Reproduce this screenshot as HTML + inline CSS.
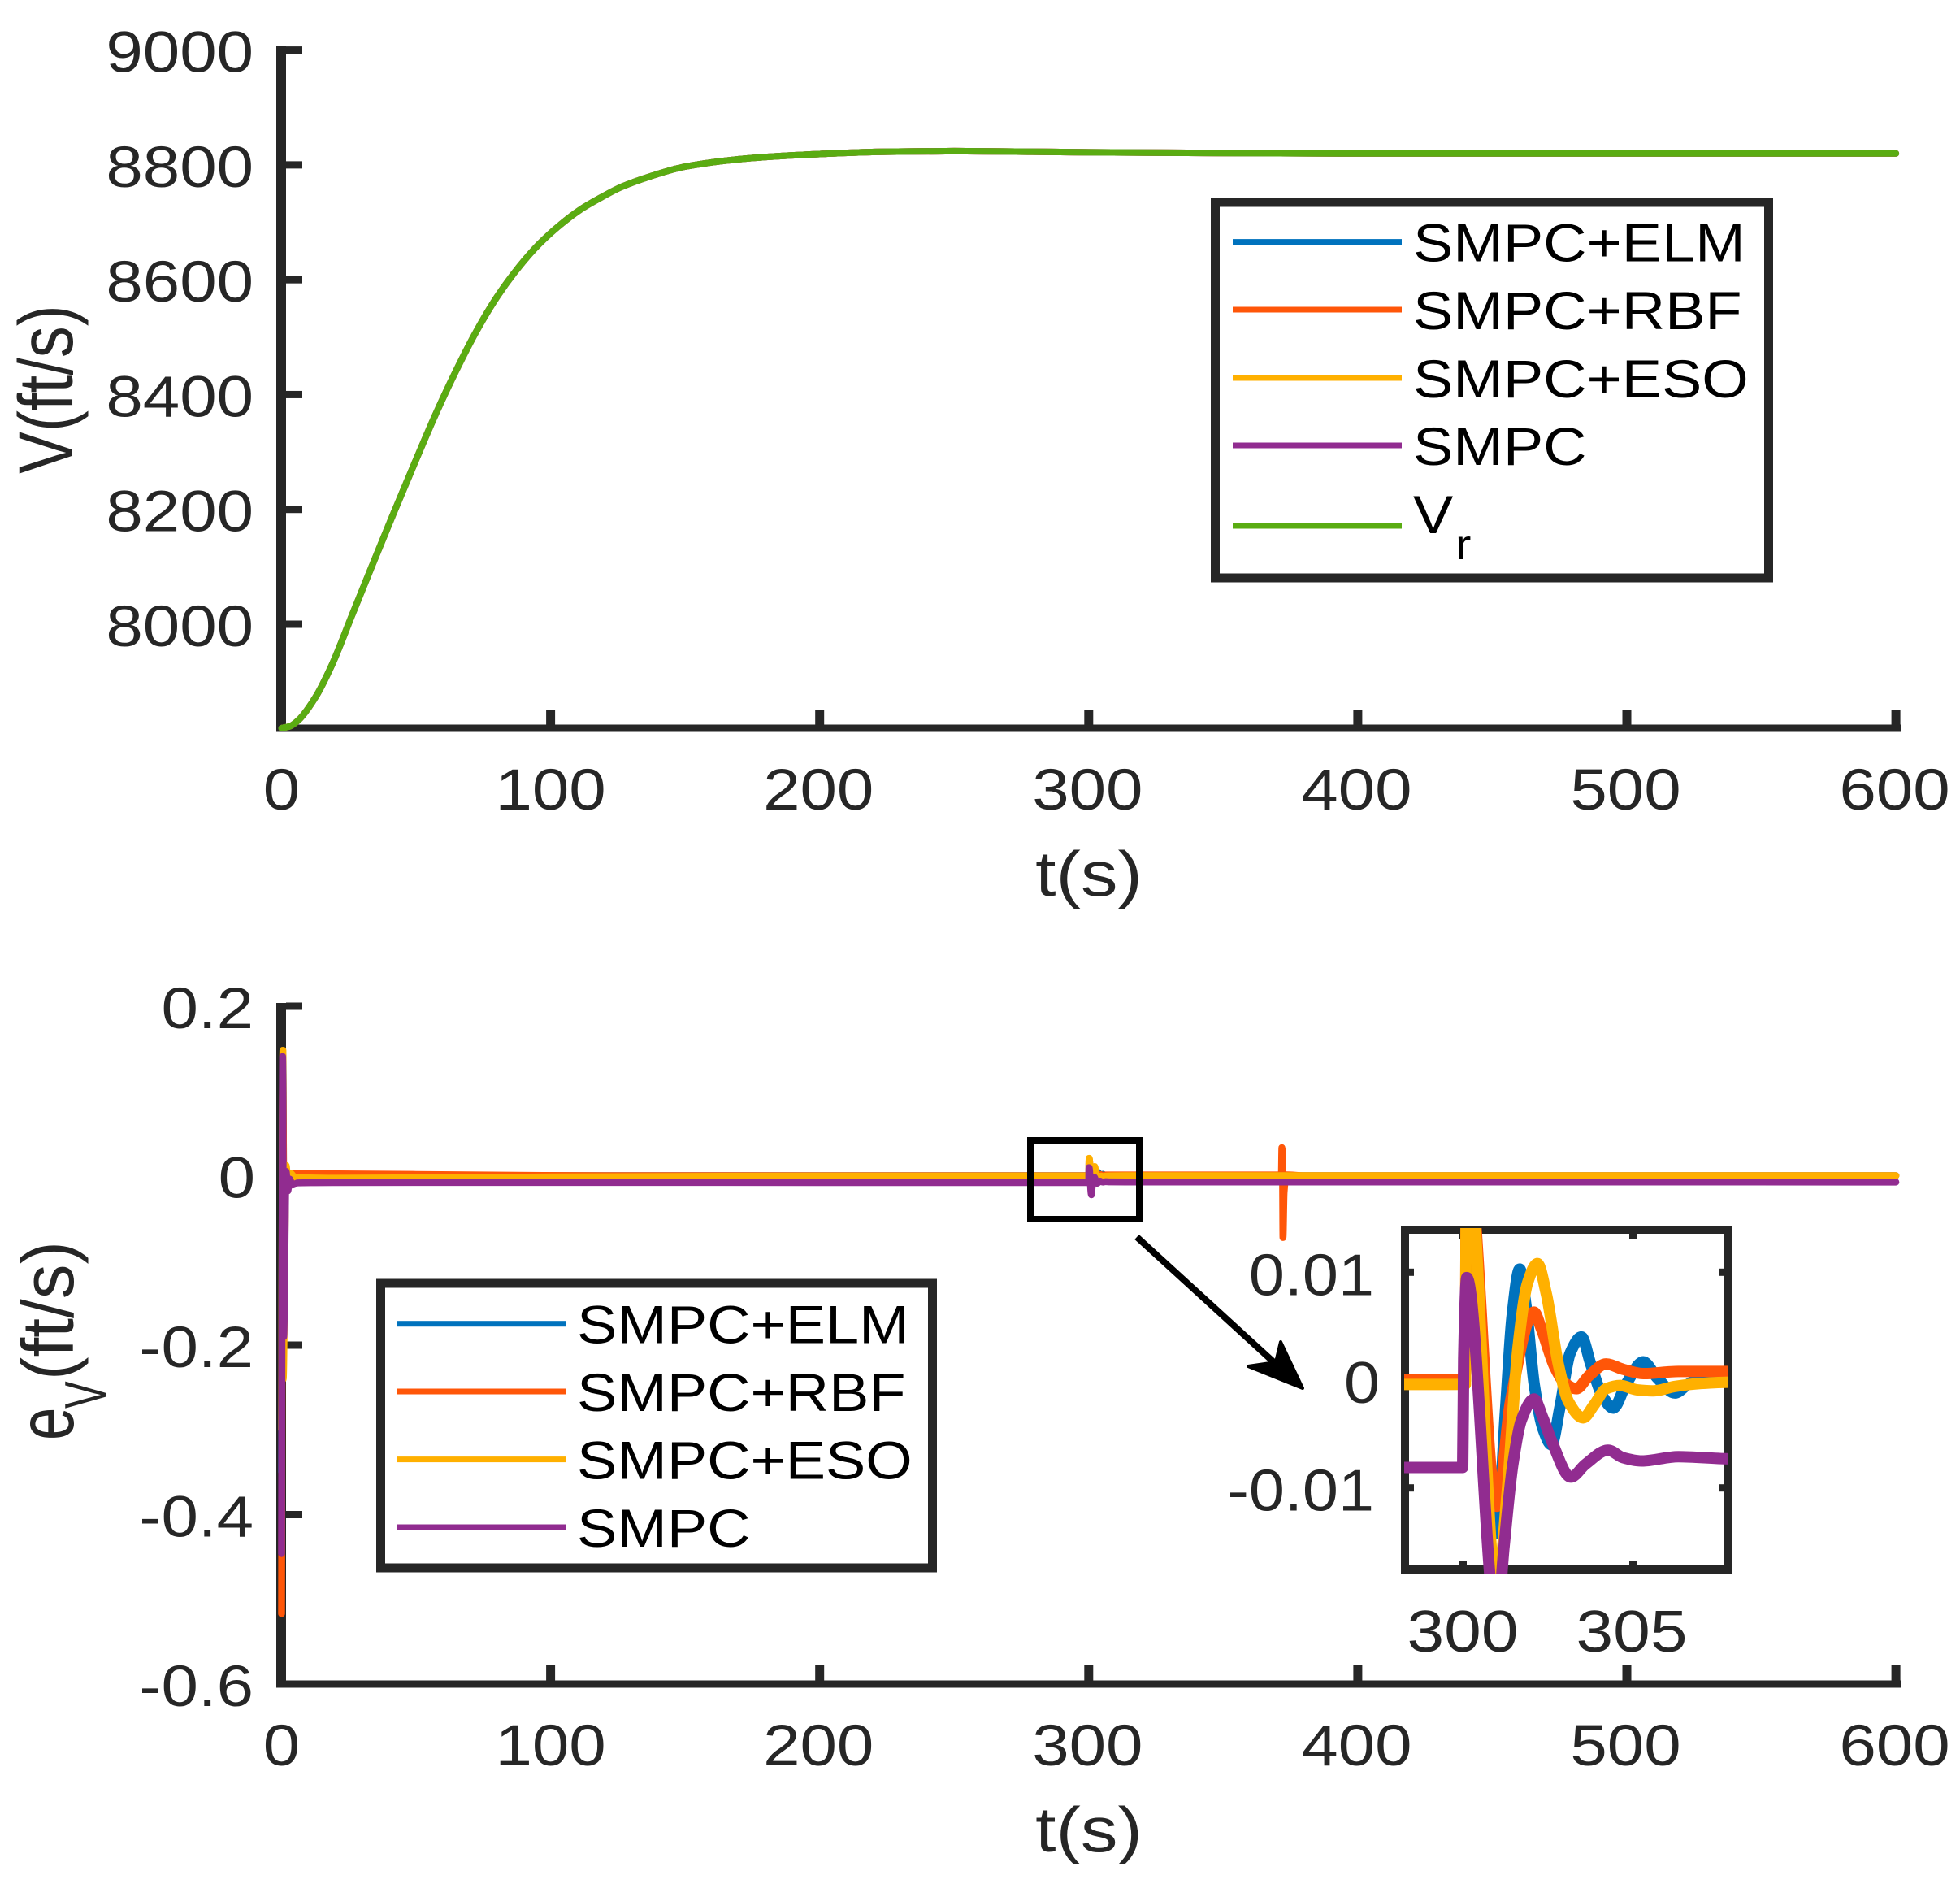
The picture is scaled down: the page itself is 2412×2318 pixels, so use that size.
<!DOCTYPE html>
<html lang="en">
<head>
<meta charset="utf-8">
<title>Velocity tracking and error chart</title>
<style>
html,body{margin:0;padding:0;background:#fff;}
svg{display:block;}
text{font-family:"Liberation Sans",Arial,sans-serif;}
</style>
</head>
<body>
<svg id="figure" xmlns="http://www.w3.org/2000/svg" width="2412" height="2318" viewBox="0 0 2412 2318">
<rect x="0" y="0" width="2412" height="2318" fill="#ffffff"/>
<defs>
<clipPath id="inset-clip"><rect x="1728" y="1511" width="399" height="426"/></clipPath>
</defs>
<g id="top-panel"></g>
<g id="bottom-panel"></g>
<rect x="1268" y="1403" width="134" height="97" fill="none" stroke="#000000" stroke-width="8"/>
<line x1="1399" y1="1522" x2="1572" y2="1680" stroke="#000000" stroke-width="8"/>
<polygon points="1603,1708 1576,1651 1570,1676 1536,1681" fill="#000000" stroke="#000000" stroke-width="4" stroke-linejoin="round"/>
<g id="inset-panel"></g>
</svg>
<script>
// Axis tick values
var xTicks = [0, 100, 200, 300, 400, 500, 600];
var topYTicks = [9000, 8800, 8600, 8400, 8200, 8000];
var bottomYTicks = [0.2, 0, -0.2, -0.4, -0.6];
var bottomYLabels = ['0.2', '0', '-0.2', '-0.4', '-0.6'];
var insetXTicks = [300, 305];
var insetYTicks = [0.01, 0, -0.01];
var insetYLabels = ['0.01', '0', '-0.01'];

// Reference velocity
var vrT = [0, 3, 6.3, 12.5, 18.7, 26.3, 34, 41.7, 49.4, 57, 64.8, 72.5, 80.2, 88, 95.7, 103.4, 111, 119, 126.5, 137, 150, 175, 200, 225, 250, 300, 400, 600];
var vrV = [7819, 7822, 7833, 7872, 7929, 8017, 8106, 8194, 8280, 8363, 8441, 8511, 8571, 8621, 8662, 8695, 8722, 8744, 8762, 8780, 8797, 8812, 8819, 8823, 8824, 8822, 8820, 8820];

// Tracking errors
var elmT = [0, 0.5, 0.9, 1.7, 2.5, 4, 100, 300, 300.08, 300.1, 300.16, 301, 301.25, 301.45, 301.67, 301.85, 302.1, 302.35, 302.6, 302.85, 303.15, 303.48, 303.75, 304.1, 304.41, 304.8, 305.29, 305.7, 306.22, 306.6, 307.05, 307.8, 320, 600];
var elmV = [-0.35, 0.142, -0.1, 0.005, -0.004, 0.001, 0, 0, 0, 0.012, 0.0165, -0.0142, -0.003, 0.006, 0.0103, 0.007, -0.0005, -0.0045, -0.006, -0.0025, 0.0025, 0.004, 0.0015, -0.0015, -0.0026, -0.0003, 0.0017, 0.0002, -0.0012, -0.0004, 0.0003, 0, 0, 0];

var rbfT = [0, 0.45, 1, 1.6, 2.4, 5, 50, 120, 300, 300.08, 300.1, 300.16, 301, 301.4, 302.09, 302.3, 302.7, 303, 303.33, 303.7, 304.2, 304.7, 305.29, 306.32, 307.8, 320, 371.6, 371.8, 372, 372.2, 372.6, 373.5, 380, 600];
var rbfV = [-0.517, 0.14, -0.12, 0.005, -0.004, 0.0025, 0.0015, 0, 0, 0, 0.015, 0.02, -0.0117, -0.002, 0.0063, 0.0048, 0.0012, -0.0003, -0.0008, 0.0004, 0.0015, 0.001, 0.0006, 0.0008, 0.0008, 0.0008, 0.0008, 0.033, 0.02, -0.073, -0.02, 0.001, 0, 0];

var esoT = [0, 0.5, 0.6, 1.7, 2.4, 3.2, 5, 20, 100, 200, 300, 300.08, 300.1, 300.16, 301, 301.3, 301.62, 301.9, 302.19, 302.45, 302.8, 303.1, 303.53, 303.85, 304.2, 304.62, 305.1, 305.6, 306.2, 306.84, 307.8, 320, 600];
var esoV = [-0.3, 0.148, -0.24, 0.012, -0.01, 0.003, -0.002, -0.003, -0.0015, -0.0005, -0.0004, -0.0004, 0.015, 0.0205, -0.0195, -0.0105, 0.003, 0.009, 0.0108, 0.008, 0.0015, -0.002, -0.0035, -0.0023, -0.0008, -0.0005, -0.0009, -0.001, -0.0006, -0.00035, -0.0002, 0, 0];

var smpcT = [0, 0.4, 0.8, 1.7, 2.3, 3, 4, 6, 20, 100, 200, 300, 300.03, 300.12, 301, 301.21, 301.47, 301.72, 302.09, 302.35, 302.6, 303.17, 303.6, 304.26, 304.7, 305.24, 306.32, 307.8, 320, 600];
var smpcV = [-0.446, 0.1405, -0.19, 0.005, -0.018, -0.004, -0.011, -0.0085, -0.0082, -0.008, -0.0081, -0.0081, 0.002, 0.0095, -0.0225, -0.0155, -0.0078, -0.0037, -0.00175, -0.0035, -0.0056, -0.009, -0.0078, -0.0065, -0.0072, -0.0075, -0.0071, -0.0073, -0.0074, -0.0075];

// Legend labels
var legendLabels = ['SMPC+ELM', 'SMPC+RBF', 'SMPC+ESO', 'SMPC'];

var SVG_NS = 'http://www.w3.org/2000/svg';
var INK = '#262626';
var BLUE = '#0072BD', ORANGE = '#FF5608', YELLOW = '#FFB000', PURPLE = '#912C90', GREEN = '#5AAC12';
var seriesColors = [BLUE, ORANGE, YELLOW, PURPLE];
var seriesKeys = ['smpc-elm', 'smpc-rbf', 'smpc-eso', 'smpc'];

function xMain(t) { return 346.5 + t * 3.311; }
function yTop(v) { return 61.6 + (9000 - v) * 0.7064; }
function yBottom(v) { return 1238 + (0.2 - v) * 1042.5; }
function xInset(t) { return 1800 + (t - 300) * 42; }
function yInset(v) { return 1698 - v * 13270; }

function shape(parent, tag, name, props) {
  var el = document.createElementNS(SVG_NS, tag);
  for (var k in props) { el.setAttribute(k, props[k]); }
  
  
  parent.appendChild(el);
  return el;
}

function label(parent, name, str, x, y, size, sx, anchor, fill, rotate) {
  var tr = 'translate(' + x + ' ' + y + ')';
  if (rotate) { tr += ' rotate(' + rotate + ')'; }
  tr += ' scale(' + sx + ' 1)';
  var el = shape(parent, 'text', name, {
    transform: tr, 'font-size': size, 'text-anchor': anchor, fill: fill
  });
  el.textContent = str;
  return el;
}

// Monotone cubic through the data points, so peaks stay at the read values.
function curve(xs, ys) {
  var n = xs.length, d = [], w = [], m = [], i;
  for (i = 0; i < n - 1; i++) {
    w.push(Math.max(xs[i + 1] - xs[i], 1e-6));
    d.push((ys[i + 1] - ys[i]) / w[i]);
  }
  m.push(d[0]);
  for (i = 1; i < n - 1; i++) {
    if (d[i - 1] * d[i] <= 0) {
      m.push(0);
    } else {
      var a = 2 * w[i] + w[i - 1], b = w[i] + 2 * w[i - 1];
      m.push((a + b) / (a / d[i - 1] + b / d[i]));
    }
  }
  m.push(d[n - 2]);
  var p = 'M' + xs[0].toFixed(2) + ' ' + ys[0].toFixed(2);
  for (i = 0; i < n - 1; i++) {
    var h = (xs[i + 1] - xs[i]) / 3;
    p += 'C' + (xs[i] + h).toFixed(2) + ' ' + (ys[i] + m[i] * h).toFixed(2) + ' ' +
      (xs[i + 1] - h).toFixed(2) + ' ' + (ys[i + 1] - m[i + 1] * h).toFixed(2) + ' ' +
      xs[i + 1].toFixed(2) + ' ' + ys[i + 1].toFixed(2);
  }
  return p;
}

function trace(parent, name, ts, vs, xf, yf, color, width) {
  return shape(parent, 'path', name, {
    d: curve(ts.map(xf), vs.map(yf)), fill: 'none', stroke: color,
    'stroke-width': width, 'stroke-linecap': 'round', 'stroke-linejoin': 'round'
  });
}

function axes(parent, prefix, yTicks, yLabels, yf, axisBottom, axisTop) {
  shape(parent, 'rect', prefix + '-y-axis', { x: 340, y: axisTop, width: 12, height: axisBottom + 4.5 - axisTop, fill: INK });
  shape(parent, 'rect', prefix + '-x-axis', { x: 340, y: axisBottom - 4.5, width: 1999, height: 9, fill: INK });
  yTicks.forEach(function (v, i) {
    var y = yf(v);
    shape(parent, 'rect', prefix + '-y-tick', { x: 352, y: y - 4.5, width: 20, height: 9, fill: INK });
    label(parent, prefix + '-y-tick-label', yLabels[i], yLabels[i] === '0' ? 314 : 312, y + 27, 71, 1.15, 'end', INK);
  });
  xTicks.forEach(function (t) {
    var x = xMain(t);
    if (t > 0) {
      shape(parent, 'rect', prefix + '-x-tick', { x: x - 5.5, y: axisBottom - 23, width: 11, height: 23, fill: INK });
    }
    label(parent, prefix + '-x-tick-label', String(t), t >= 200 ? x - 1.5 : x, axisBottom + 100, 71, 1.15, 'middle', INK);
  });
  label(parent, prefix + '-x-axis-title', 't(s)', 1340, axisBottom + 206, 78, 1.17, 'middle', INK);
}

function legendBox(parent, name, left, top, right, bottom) {
  shape(parent, 'rect', name, {
    x: left + 5.5, y: top + 5, width: right - left - 11, height: bottom - top - 10,
    fill: '#ffffff', stroke: INK, 'stroke-width': 11
  });
}

function legendEntry(parent, key, text, color, xLine, yLine) {
  shape(parent, 'rect', 'legend-line-' + key, { x: xLine, y: yLine - 3.5, width: 208, height: 7, fill: color });
  label(parent, 'legend-label-' + key, text, xLine + 222, yLine + 24, 66, 1.12, 'start', '#000000');
}

// Top panel
var top_ = document.getElementById('top-panel');
axes(top_, 'velocity', topYTicks, topYTicks.map(String), yTop, 896, 57);
label(top_, 'velocity-y-axis-title', 'V(ft/s)', 89, 583, 95, 0.82, 'start', INK, -90);
seriesKeys.forEach(function (key, i) {
  trace(top_, 'velocity-line-' + key, vrT, vrV, xMain, yTop, seriesColors[i], 8);
});
trace(top_, 'velocity-line-reference', vrT, vrV, xMain, yTop, GREEN, 8);
legendBox(top_, 'velocity-legend', 1490, 244, 2182, 716);
var lineYTop = [297.6, 381, 465, 548];
legendLabels.forEach(function (txt, i) {
  legendEntry(top_, seriesKeys[i], txt, seriesColors[i], 1517, lineYTop[i]);
});
shape(top_, 'rect', 'legend-line-reference', { x: 1517, y: 643.5, width: 208, height: 7, fill: GREEN });
label(top_, 'legend-label-reference-v', 'V', 1739, 656, 66, 1.12, 'start', '#000000');
label(top_, 'legend-label-reference-subscript', 'r', 1791, 688, 52, 1.12, 'start', '#000000');

// Bottom panel
var bottom_ = document.getElementById('bottom-panel');
axes(bottom_, 'error', bottomYTicks, bottomYLabels, yBottom, 2072, 1234);
label(bottom_, 'error-y-axis-title', 'e', 90, 1772, 98, 0.74, 'start', INK, -90);
label(bottom_, 'error-y-axis-title-subscript', 'V', 130, 1733, 72, 0.7, 'start', INK, -90);
label(bottom_, 'error-y-axis-title-units', '(ft/s)', 90, 1698, 90, 0.95, 'start', INK, -90);

var mainSeries = [[elmT, elmV], [rbfT, rbfV], [esoT, esoV], [smpcT, smpcV]];
mainSeries.forEach(function (s, i) {
  trace(bottom_, 'error-line-' + seriesKeys[i], s[0], s[1], xMain, yBottom, seriesColors[i], 8.5);
});
legendBox(bottom_, 'error-legend', 463, 1574, 1153, 1934);
var lineYBottom = [1628.7, 1712, 1795.6, 1879];
legendLabels.forEach(function (txt, i) {
  legendEntry(bottom_, seriesKeys[i], txt, seriesColors[i], 488, lineYBottom[i]);
});

// Inset panel
var inset_ = document.getElementById('inset-panel');
shape(inset_, 'rect', 'inset-frame', { x: 1729, y: 1513, width: 398, height: 418, fill: '#ffffff', stroke: INK, 'stroke-width': 10 });
insetXTicks.forEach(function (t) {
  var x = xInset(t);
  shape(inset_, 'rect', 'inset-x-tick', { x: x - 5, y: 1513, width: 10, height: 11, fill: INK });
  shape(inset_, 'rect', 'inset-x-tick', { x: x - 5, y: 1920, width: 10, height: 11, fill: INK });
  label(inset_, 'inset-x-tick-label', String(t), x + (t === 300 ? 0 : -2), 2032, 72, 1.14, 'middle', INK);
});
insetYTicks.forEach(function (v, i) {
  var y = yInset(v);
  if (v !== 0) {
    shape(inset_, 'rect', 'inset-y-tick', { x: 1729, y: y - 4.5, width: 11, height: 9, fill: INK });
    shape(inset_, 'rect', 'inset-y-tick', { x: 2116, y: y - 4.5, width: 11, height: 9, fill: INK });
  }
  label(inset_, 'inset-y-tick-label', insetYLabels[i], v === 0 ? 1698 : 1691, y + 28, 72, 1.1, 'end', INK);
});
var insetLines = shape(inset_, 'g', 'inset-lines', { 'clip-path': 'url(#inset-clip)' });
mainSeries.forEach(function (s, i) {
  var keepT = [], keepV = [];
  for (var j = 0; j < s[0].length; j++) {
    if (s[0][j] >= 100 && s[0][j] <= 320) {
      keepT.push(s[0][j]);
      keepV.push(s[1][j]);
    }
  }
  trace(insetLines, 'inset-line-' + seriesKeys[i], keepT, keepV, xInset, yInset, seriesColors[i], 14);
});
</script>
</body>
</html>
